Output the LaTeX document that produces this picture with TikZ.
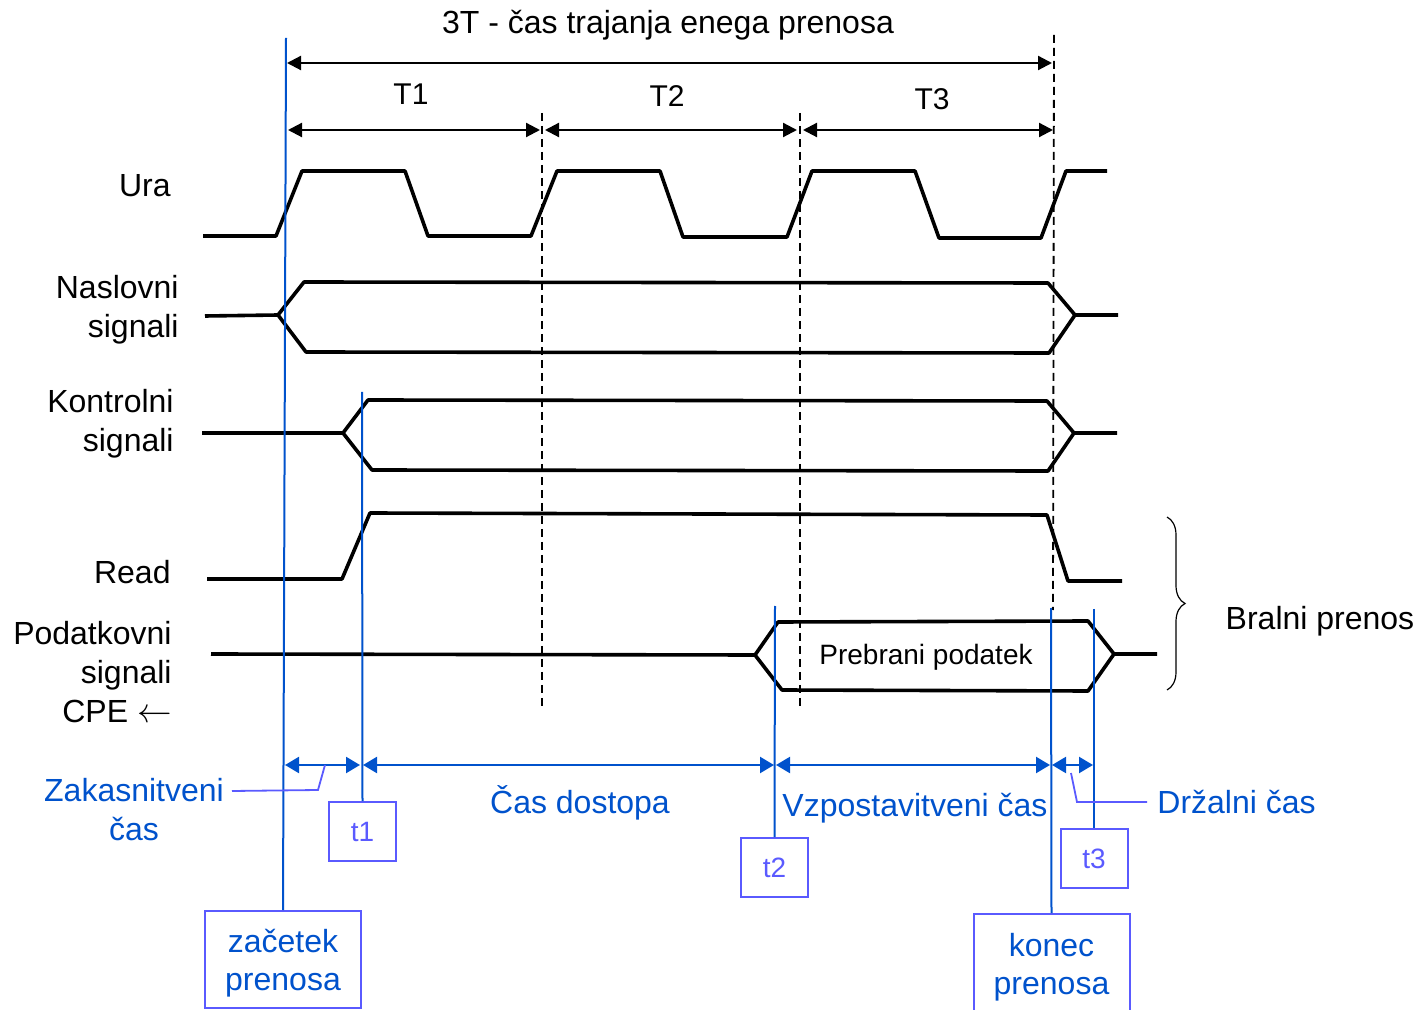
\documentclass[tikz,border=0pt]{standalone}
\usepackage{fontspec}
\setmainfont{Liberation Sans}
\usetikzlibrary{arrows.meta,decorations.pathreplacing}
\definecolor{lineblue}{HTML}{0052CC}
\definecolor{boxblue}{HTML}{5A5AFF}

\begin{document}
\begin{tikzpicture}[x=0.5pt,y=-0.5pt,
  sig/.style={line width=1.8pt, line join=round},
  gridline/.style={line width=0.9pt, dash pattern=on 4pt off 2.5pt},
  dim/.style={line width=1.1pt, {Triangle[length=7pt,width=7pt]}-{Triangle[length=7pt,width=7pt]}},
  bdim/.style={lineblue, line width=1.1pt, {Triangle[length=7pt,width=8pt]}-{Triangle[length=7pt,width=8pt]}},
  marker/.style={lineblue, line width=1pt},
  leader/.style={boxblue, line width=0.9pt},
  lbl/.style={font=\fontsize{16}{19.5}\selectfont, inner sep=0pt},
  blbl/.style={lbl, text=lineblue},
  tbox/.style={draw=boxblue, line width=1pt, text=boxblue, minimum width=33.5pt,
    minimum height=29.5pt, inner sep=0pt, font=\fontsize{14}{17}\selectfont},
  ebox/.style={draw=boxblue, line width=1pt, minimum width=78pt, inner sep=0pt},
  etext/.style={text=lineblue, align=center, inner sep=0pt, font=\fontsize{16}{19}\selectfont}
]
\clip (0,0) rectangle (1420,1010);

% ---- titles ----
\node[lbl] (title) at (668,25) {3T - čas trajanja enega prenosa};
\node[lbl, font=\fontsize{15}{18}\selectfont] (T1) at (411,94) {T1};
\node[lbl, font=\fontsize{15}{18}\selectfont] (T2) at (667,96) {T2};
\node[lbl, font=\fontsize{15}{18}\selectfont] (T3) at (932,99) {T3};

% ---- signal names ----
\node[lbl, anchor=east] (ura) at (171,186) {Ura};
\node[lbl, anchor=east, align=right] (nasl) at (179,309.5) {Naslovni\\signali};
\node[lbl, anchor=east, align=right] (kontr) at (174,423.5) {Kontrolni\\signali};
\node[lbl, anchor=east] (read) at (171,572) {Read};
\node[lbl, anchor=east, align=right] (podat) at (172,672) {Podatkovni\\signali\\CPE $\leftarrow$};

% ---- period grid ----
\coordinate (g1t) at (542,113);
\coordinate (g1b) at (542,708);
\coordinate (g2t) at (800,113);
\coordinate (g2b) at (800,708);
\coordinate (g3t) at (1054,35);
\coordinate (g3b) at (1053,610);
\draw[gridline] (g1t) -- (g1b);
\draw[gridline] (g2t) -- (g2b);
\draw[gridline] (g3t) -- (g3b);

% ---- period arrows ----
\coordinate (a3l) at (287,63);
\coordinate (a3r) at (1052,63);
\draw[dim] (a3l) -- (a3r);
\coordinate (a1l) at (288,130);
\coordinate (a1r) at (540,130);
\coordinate (a2l) at (545,130);
\coordinate (a2r) at (797,130);
\coordinate (a4l) at (803,130);
\coordinate (a4r) at (1053,130);
\draw[dim] (a1l) -- (a1r);
\draw[dim] (a2l) -- (a2r);
\draw[dim] (a4l) -- (a4r);

% ---- clock ----
\draw[sig] (203,236) -- (276,236) -- (302,171) -- (405,171) -- (428,236)
  -- (531,236) -- (557,171) -- (660,171) -- (683,237) -- (787,237)
  -- (812,171) -- (915,171) -- (939,238) -- (1041,238) -- (1066,171) -- (1107,171);

% ---- address bus ----
\draw[sig] (205,316) -- (278,315) -- (304,282) -- (1048,283) -- (1075,315) -- (1118,315);
\draw[sig] (278,315) -- (306,352) -- (1049,353) -- (1075,315);

% ---- control bus ----
\draw[sig] (202,433) -- (343,433) -- (368,400) -- (1047,401) -- (1074,433) -- (1117,433);
\draw[sig] (343,433) -- (372,470) -- (1048,471) -- (1074,433);

% ---- read strobe ----
\draw[sig] (207,579) -- (342,579) -- (370,513) -- (1047,515) -- (1068,581) -- (1122,581);

% ---- data bus ----
\draw[sig] (211,654) -- (755,655) -- (778,622) -- (1088,621) -- (1114,654) -- (1157,654);
\draw[sig] (755,655) -- (782,690) -- (1088,691) -- (1114,654);
\node[lbl, font=\fontsize{14}{17}\selectfont] (data) at (926,657) {Prebrani podatek};

% ---- read transfer brace ----
\coordinate (brt) at (1167,517);
\coordinate (brb) at (1167,690);
\draw[line width=0.6pt, decorate, decoration={brace, amplitude=9pt}] (brt) -- (brb);
\node[lbl] (bral) at (1320,621) {Bralni prenos};

% ---- event boxes ----
\node[ebox, minimum height=48.5pt] (zac) at (283,959.5) {};
\node[etext] (zact) at (283,963.5) {začetek\\prenosa};
\node[ebox, minimum height=50pt] (kon) at (1051.5,964) {};
\node[etext] (kont) at (1051.5,967) {konec\\prenosa};
\node[tbox] (t1) at (362.5,831.5) {t1};
\node[tbox] (t2) at (774.5,867.5) {t2};
\node[tbox] (t3) at (1094,858.5) {t3};

% ---- event markers ----
\coordinate (zt) at (286,38);
\coordinate (t1t) at (362,392);
\coordinate (t2t) at (775,606);
\coordinate (t3t) at (1094,609);
\coordinate (kt) at (1051,608);
\draw[marker] (zt) -- (zac.north);
\draw[marker] (t1t) -- (t1.north);
\draw[marker] (t2t) -- (t2.north);
\draw[marker] (t3t) -- (t3.north);
\draw[marker] (kt) -- (kon.north);

% ---- interval arrows ----
\coordinate (i0) at (285,765);
\coordinate (i1a) at (360,765);
\coordinate (i1b) at (363,765);
\coordinate (i2a) at (774,765);
\coordinate (i2b) at (776,765);
\coordinate (i3a) at (1050,765);
\coordinate (i3b) at (1052,765);
\coordinate (i4) at (1093,765);
\draw[bdim] (i0) -- (i1a);
\draw[bdim] (i1b) -- (i2a);
\draw[bdim] (i2b) -- (i3a);
\draw[bdim] (i3b) -- (i4);

% ---- interval names ----
\node[blbl, align=center] (zak) at (134,810) {Zakasnitveni\\čas};
\node[blbl] (dost) at (580,803) {Čas dostopa};
\node[blbl] (vzp) at (915,808) {Vzpostavitveni čas};
\node[blbl, anchor=west] (drz) at (1157,802) {Držalni čas};

% ---- leaders ----
\coordinate (zl) at (232,791);
\coordinate (zk) at (318,790);
\coordinate (zp) at (325,765);
\draw[leader] (zl) -- (zk) -- (zp);
\coordinate (dl) at (1147,802);
\coordinate (dk) at (1077,802);
\coordinate (dp) at (1071,773);
\draw[leader] (dl) -- (dk) -- (dp);
\end{tikzpicture}
\end{document}
